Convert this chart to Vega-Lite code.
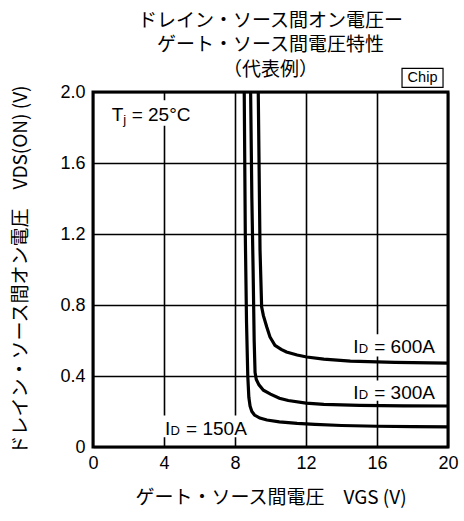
{
  "$schema": "https://vega.github.io/schema/vega-lite/v6.json",
  "width": 355,
  "height": 355,
  "autosize": {"type": "none"},
  "padding": {"left": 93, "top": 92, "right": 16, "bottom": 74},
  "background": "white",
  "config": {
    "view": {"stroke": "black", "strokeWidth": 3},
    "font": "Liberation Sans, Noto Sans CJK JP",
    "text": {"font": "Liberation Sans, Noto Sans CJK JP", "color": "black"}
  },
  "title": {
    "text": ["ドレイン・ソース間オン電圧ー", "ゲート・ソース間電圧特性", "（代表例）"],
    "font": "Noto Sans CJK JP",
    "fontSize": 19,
    "fontWeight": "normal",
    "lineHeight": 24.5,
    "anchor": "middle",
    "frame": "group",
    "offset": -12,
    "color": "black"
  },
  "layer": [
    {
      "data": {"values": [
        {"vgs": 0.15, "vgs2": 5.8, "vds": 1.81, "vds2": 1.953},
        {"vgs": 14.3, "vgs2": 19.55, "vds": 0.51, "vds2": 0.635},
        {"vgs": 14.3, "vgs2": 19.55, "vds": 0.26, "vds2": 0.375},
        {"vgs": 3.8, "vgs2": 8.6, "vds": 0.055, "vds2": 0.178}
      ]},
      "mark": {"type": "rect", "fill": "white", "stroke": null},
      "encoding": {
        "x": {
          "field": "vgs", "type": "quantitative",
          "scale": {"domain": [0, 20], "nice": false, "zero": false},
          "axis": {
            "values": [0, 2, 4, 6, 8, 10, 12, 14, 16, 18, 20],
            "labelExpr": "datum.value % 4 == 0 ? datum.label : ''",
            "labelOverlap": false,
            "labelFlush": false,
            "grid": true, "gridColor": "black", "gridWidth": 1.6, "gridOpacity": 1,
            "ticks": false, "domain": false,
            "labelFontSize": 18, "labelColor": "black", "labelPadding": 7,
            "labelFont": "Liberation Sans",
            "title": "ゲート・ソース間電圧　VGS (V)",
            "titleFont": "Noto Sans CJK JP", "titleFontSize": 19, "titleFontWeight": "normal",
            "titleColor": "black", "titlePadding": 16
          }
        },
        "x2": {"field": "vgs2"},
        "y": {
          "field": "vds", "type": "quantitative",
          "scale": {"domain": [0, 2], "nice": false, "zero": false},
          "axis": {
            "values": [0, 0.2, 0.4, 0.6, 0.8, 1.0, 1.2, 1.4, 1.6, 1.8, 2.0],
            "labelExpr": "round(datum.value*10) % 4 == 0 ? (datum.value == 0 ? '0' : format(datum.value, '.1f')) : ''",
            "labelOverlap": false,
            "labelFlush": false,
            "grid": true, "gridColor": "black", "gridWidth": 1.6, "gridOpacity": 1,
            "ticks": false, "domain": false,
            "labelFontSize": 18, "labelColor": "black", "labelPadding": 8,
            "labelFont": "Liberation Sans",
            "title": "ドレイン・ソース間オン電圧　VDS(ON) (V)",
            "titleFont": "Noto Sans CJK JP", "titleFontSize": 19, "titleFontWeight": "normal",
            "titleColor": "black", "titlePadding": 29
          }
        },
        "y2": {"field": "vds2"}
      }
    },
    {
      "data": {"values": [
        {"id": "150", "vgs": 8.52, "vds": 2.0},
        {"id": "150", "vgs": 8.58, "vds": 1.2},
        {"id": "150", "vgs": 8.65, "vds": 0.7},
        {"id": "150", "vgs": 8.72, "vds": 0.4},
        {"id": "150", "vgs": 8.78, "vds": 0.28},
        {"id": "150", "vgs": 8.85, "vds": 0.23},
        {"id": "150", "vgs": 8.95, "vds": 0.2},
        {"id": "150", "vgs": 9.1, "vds": 0.18},
        {"id": "150", "vgs": 9.4, "vds": 0.163},
        {"id": "150", "vgs": 9.8, "vds": 0.152},
        {"id": "150", "vgs": 10.5, "vds": 0.142},
        {"id": "150", "vgs": 11.5, "vds": 0.133},
        {"id": "150", "vgs": 12.5, "vds": 0.127},
        {"id": "150", "vgs": 14, "vds": 0.121},
        {"id": "150", "vgs": 16, "vds": 0.117},
        {"id": "150", "vgs": 18, "vds": 0.115},
        {"id": "150", "vgs": 20, "vds": 0.113},
        {"id": "300", "vgs": 8.88, "vds": 2.0},
        {"id": "300", "vgs": 8.95, "vds": 1.4},
        {"id": "300", "vgs": 9.02, "vds": 1.0},
        {"id": "300", "vgs": 9.08, "vds": 0.6},
        {"id": "300", "vgs": 9.13, "vds": 0.42},
        {"id": "300", "vgs": 9.2, "vds": 0.38},
        {"id": "300", "vgs": 9.35, "vds": 0.35},
        {"id": "300", "vgs": 9.6, "vds": 0.32},
        {"id": "300", "vgs": 10.0, "vds": 0.298},
        {"id": "300", "vgs": 10.5, "vds": 0.275},
        {"id": "300", "vgs": 11, "vds": 0.262},
        {"id": "300", "vgs": 12, "vds": 0.247},
        {"id": "300", "vgs": 13, "vds": 0.24},
        {"id": "300", "vgs": 15, "vds": 0.235},
        {"id": "300", "vgs": 17.5, "vds": 0.232},
        {"id": "300", "vgs": 20, "vds": 0.231},
        {"id": "600", "vgs": 9.31, "vds": 2.0},
        {"id": "600", "vgs": 9.41, "vds": 1.11},
        {"id": "600", "vgs": 9.5, "vds": 0.79},
        {"id": "600", "vgs": 9.6, "vds": 0.74},
        {"id": "600", "vgs": 9.79, "vds": 0.676},
        {"id": "600", "vgs": 9.97, "vds": 0.62},
        {"id": "600", "vgs": 10.25, "vds": 0.573},
        {"id": "600", "vgs": 10.6, "vds": 0.55},
        {"id": "600", "vgs": 10.9, "vds": 0.535},
        {"id": "600", "vgs": 11.5, "vds": 0.518},
        {"id": "600", "vgs": 12.04, "vds": 0.507},
        {"id": "600", "vgs": 13, "vds": 0.495},
        {"id": "600", "vgs": 14.5, "vds": 0.484},
        {"id": "600", "vgs": 17, "vds": 0.477},
        {"id": "600", "vgs": 20, "vds": 0.473}
      ]},
      "mark": {"type": "line", "color": "black", "strokeWidth": 3.2, "clip": true},
      "encoding": {
        "x": {"field": "vgs", "type": "quantitative"},
        "y": {"field": "vds", "type": "quantitative"},
        "detail": {"field": "id"}
      }
    },
    {
      "data": {"values": [
        {"vgs": 14.66, "vds": 0.527, "rest": "= 600A"},
        {"vgs": 14.66, "vds": 0.272, "rest": "= 300A"},
        {"vgs": 4.06, "vds": 0.066, "rest": "= 150A"}
      ]},
      "layer": [
        {"mark": {"type": "text", "text": "I", "align": "left", "baseline": "alphabetic", "fontSize": 19}},
        {"mark": {"type": "text", "text": "D", "align": "left", "baseline": "alphabetic", "fontSize": 13, "dx": 5.5}},
        {"mark": {"type": "text", "align": "left", "baseline": "alphabetic", "fontSize": 19, "dx": 21}, "encoding": {"text": {"field": "rest"}}}
      ],
      "encoding": {
        "x": {"field": "vgs", "type": "quantitative"},
        "y": {"field": "vds", "type": "quantitative"}
      }
    },
    {
      "data": {"values": [{"vgs": 1.05, "vds": 1.837}]},
      "layer": [
        {"mark": {"type": "text", "text": "T", "align": "left", "baseline": "alphabetic", "fontSize": 19}},
        {"mark": {"type": "text", "text": "j", "align": "left", "baseline": "alphabetic", "fontSize": 13, "dx": 11.6, "dy": 3}},
        {"mark": {"type": "text", "text": "= 25°C", "align": "left", "baseline": "alphabetic", "fontSize": 19, "dx": 20}}
      ],
      "encoding": {
        "x": {"field": "vgs", "type": "quantitative"},
        "y": {"field": "vds", "type": "quantitative"}
      }
    },
    {
      "data": {"values": [{"vgs": 17.41, "vgs2": 19.72, "vds": 2.026, "vds2": 2.133}]},
      "mark": {"type": "rect", "fill": "white", "stroke": "black", "strokeWidth": 1.2},
      "encoding": {
        "x": {"field": "vgs", "type": "quantitative"},
        "x2": {"field": "vgs2"},
        "y": {"field": "vds", "type": "quantitative"},
        "y2": {"field": "vds2"}
      }
    },
    {
      "data": {"values": [{"vgs": 18.565, "vds": 2.08, "label": "Chip"}]},
      "mark": {"type": "text", "align": "center", "baseline": "middle", "fontSize": 14.5},
      "encoding": {
        "x": {"field": "vgs", "type": "quantitative"},
        "y": {"field": "vds", "type": "quantitative"},
        "text": {"field": "label"}
      }
    }
  ]
}
